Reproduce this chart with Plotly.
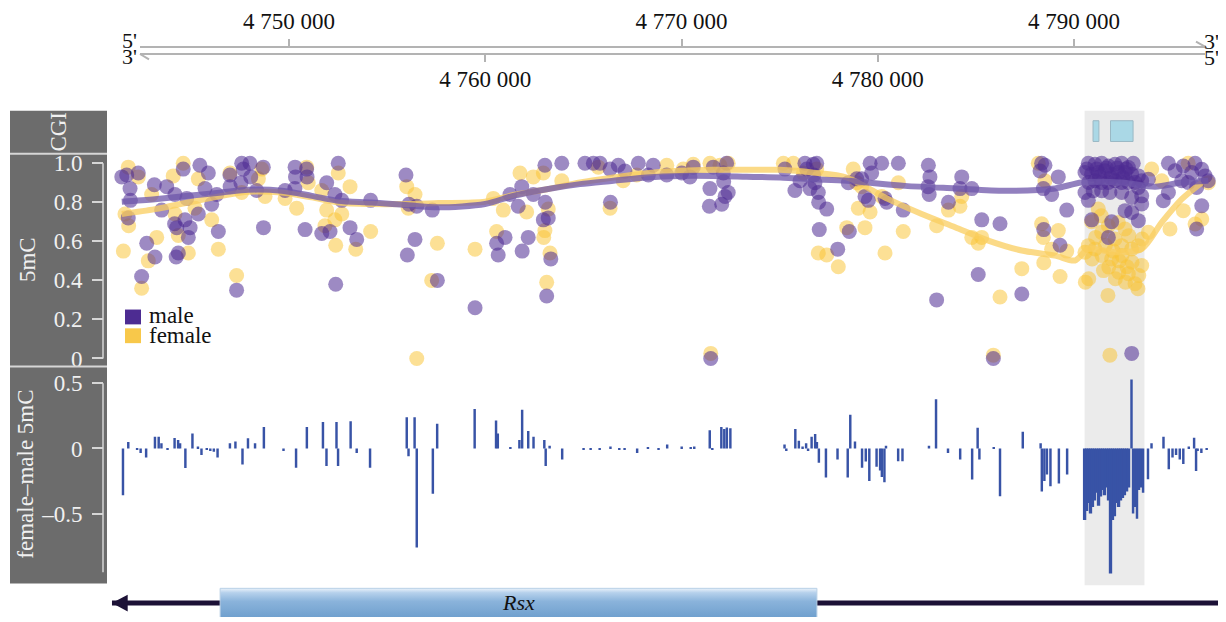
import plotly.graph_objects as go

W, H = 1226, 622
SERIF = "Liberation Serif, Times New Roman, serif"

# ------------------------------------------------------------------ data
ruler_top_ticks = [4750, 4770, 4790]
ruler_top_labels = ["4 750 000", "4 770 000", "4 790 000"]
ruler_bottom_ticks = [4760, 4780]
ruler_bottom_labels = ["4 760 000", "4 780 000"]

male_pos = [
    4741.48, 4741.73, 4742.32, 4741.90, 4741.92, 4741.81, 4742.75, 4743.17, 4742.49, 4743.14,
    4743.77, 4743.51, 4744.19, 4744.17, 4744.28, 4744.79, 4744.70, 4744.96, 4744.87, 4744.36,
    4744.25, 4744.61, 4745.46, 4745.89, 4745.72, 4745.38, 4746.06, 4746.32, 4746.40, 4746.99,
    4747.00, 4747.59, 4747.67, 4748.01, 4748.05, 4747.55, 4748.69, 4748.35, 4747.33, 4748.70,
    4750.31, 4750.90, 4750.33, 4750.92, 4750.30, 4749.80, 4750.82, 4751.67, 4752.09, 4751.92,
    4752.51, 4752.34, 4752.69, 4753.11, 4753.45, 4752.38, 4754.16, 4755.96, 4756.11, 4756.51,
    4757.30, 4756.42, 4756.03, 4757.56, 4759.48,
    4760.58, 4760.66, 4761.01, 4761.26, 4761.68, 4761.86, 4761.88, 4762.19, 4762.45, 4763.04,
    4763.90, 4763.06, 4762.96, 4763.21, 4763.34, 4763.13, 4765.08, 4765.51, 4765.85, 4766.36,
    4766.78, 4767.12, 4766.38, 4767.80, 4768.31, 4768.56, 4769.25, 4770.01, 4770.43, 4770.60,
    4771.45, 4771.42, 4771.62, 4772.13, 4772.15, 4772.38, 4772.22, 4772.05, 4772.30, 4771.49,
    4775.27, 4775.78, 4776.04, 4776.29, 4776.72, 4776.74, 4776.80, 4776.55, 4776.97, 4776.99,
    4777.40, 4777.02, 4777.96, 4778.55, 4778.50, 4778.93, 4776.38, 4776.89,
    4779.61, 4780.20, 4781.05, 4779.69, 4779.18, 4779.35, 4779.52, 4780.37, 4780.46, 4781.30,
    4782.58, 4782.66, 4782.56, 4782.62, 4783.60, 4784.28, 4784.19, 4784.79, 4785.30, 4786.23,
    4785.12, 4783.00, 4787.34, 4785.89, 4788.35, 4788.52, 4788.27, 4789.20, 4788.44, 4788.86,
    4789.63, 4788.46, 4789.29,
    4790.90, 4791.75, 4791.92, 4790.73,
    4790.73, 4791.07, 4791.41, 4791.75, 4792.09, 4792.43, 4792.77, 4793.02,
    4790.56, 4790.90, 4791.24, 4791.58, 4791.92, 4792.26, 4792.60, 4792.94, 4793.28,
    4790.75, 4791.07, 4791.41, 4791.75, 4792.09, 4792.43, 4792.77, 4793.11, 4793.45, 4793.79,
    4790.98, 4791.41, 4791.83, 4792.43, 4793.28, 4793.45, 4793.45, 4792.94, 4793.28, 4792.60,
    4790.56, 4792.94, 4792.94,
    4790.65, 4791.15, 4791.65, 4792.20, 4792.65, 4791.30, 4791.90, 4792.50,
    4794.81, 4795.15, 4795.57, 4796.17, 4796.51, 4796.84, 4795.82, 4795.49, 4794.81, 4794.55,
    4796.25, 4796.51, 4796.25, 4796.00, 4796.68,
]
male_5mc = [
    0.93, 0.94, 0.95, 0.87, 0.81, 0.72, 0.59, 0.52, 0.42, 0.89,
    0.88, 0.76, 0.84, 0.69, 0.67, 0.82, 0.71, 0.67, 0.62, 0.54,
    0.52, 0.97, 0.99, 0.95, 0.87, 0.74, 0.79, 0.84, 0.65, 0.94,
    0.88, 1.00, 0.97, 1.00, 0.93, 0.90, 0.98, 0.86, 0.35, 0.67,
    0.98, 0.97, 0.93, 0.93, 0.87, 0.86, 0.66, 0.64, 0.65, 0.90,
    1.00, 0.84, 0.81, 0.67, 0.61, 0.38, 0.81, 0.94, 0.79, 0.78,
    0.76, 0.61, 0.53, 0.40, 0.26,
    0.59, 0.53, 0.62, 0.84, 0.78, 0.88, 0.55, 0.62, 0.84, 0.99,
    1.00, 0.80, 0.71, 0.72, 0.51, 0.32, 1.00, 1.00, 1.00, 0.97,
    0.99, 0.96, 0.80, 1.00, 0.94, 0.99, 0.94, 0.95, 0.93, 0.98,
    0.87, 0.78, 0.98, 0.95, 0.905, 0.85, 0.83, 0.79, 1.00, 0.00,
    0.97, 0.86, 0.91, 1.00, 0.995, 0.94, 0.90, 0.87, 0.85, 0.80,
    0.765, 0.66, 0.56, 0.65, 0.90, 0.92, 0.97, 1.00,
    1.00, 1.00, 1.00, 0.95, 0.92, 0.83, 0.81, 0.82, 0.80, 0.76,
    0.99, 0.93, 0.88, 0.84, 0.80, 0.93, 0.87, 0.87, 0.71, 0.69,
    0.43, 0.30, 0.33, 0.00, 1.00, 0.99, 0.96, 0.93, 0.87, 0.84,
    0.76, 0.66, 0.58,
    0.71, 0.62, 0.70, 0.81,
    1.00, 0.995, 1.00, 0.986, 0.995, 1.00, 0.978, 1.00,
    0.952, 0.944, 0.952, 0.961, 0.944, 0.952, 0.952, 0.944, 0.935,
    0.901, 0.91, 0.901, 0.901, 0.91, 0.901, 0.901, 0.901, 0.91, 0.918,
    0.859, 0.859, 0.85, 0.85, 0.876, 0.833, 0.791, 0.748, 0.706, 0.757,
    0.85, 0.825, 0.026,
    0.97, 0.97, 0.975, 0.975, 0.97, 0.93, 0.925, 0.925,
    1.00, 0.961, 0.986, 1.00, 0.969, 0.91, 0.901, 0.91, 0.85, 0.808,
    0.876, 0.782, 0.663, 0.952, 0.935,
]

female_pos = [
    4741.56, 4742.49, 4742.83, 4743.26, 4741.81, 4741.83, 4741.64, 4742.32, 4743.00, 4744.10,
    4744.61, 4744.19, 4744.36, 4744.87, 4745.21, 4745.38, 4746.06, 4746.40, 4746.99, 4747.33,
    4747.59, 4748.44, 4748.61, 4748.78, 4749.80, 4750.39, 4750.90, 4750.98, 4751.92, 4751.83,
    4752.34, 4752.69, 4752.51, 4753.11, 4752.38, 4753.40, 4754.16, 4756.00, 4756.42, 4756.08,
    4757.56, 4757.27, 4756.51, 4759.48, 4751.67,
    4760.41, 4760.92, 4760.58, 4761.77, 4762.45, 4762.11, 4762.96, 4763.90, 4763.04, 4762.98,
    4763.30, 4763.13, 4763.21, 4765.76, 4766.36, 4767.03, 4767.72, 4769.25, 4770.09, 4770.60,
    4771.45, 4771.96, 4772.38, 4771.49, 4775.19, 4775.70, 4776.21, 4776.89, 4776.97, 4777.40,
    4777.99, 4778.42, 4778.75, 4779.01, 4778.93,
    4779.18, 4779.61, 4779.35, 4780.20, 4781.05, 4781.30, 4780.37, 4783.00, 4783.60, 4784.19,
    4784.28, 4784.79, 4785.12, 4785.30, 4786.23, 4787.34, 4785.89, 4788.35, 4788.44, 4788.46,
    4789.20, 4788.86, 4789.63, 4789.29, 4788.52, 4788.18,
    4791.24, 4790.90, 4791.41, 4790.73, 4791.07, 4791.75, 4792.26, 4792.60, 4792.09, 4792.43,
    4792.94, 4793.28, 4790.56, 4790.92, 4791.43, 4791.92, 4792.45, 4792.96, 4793.45, 4791.77,
    4792.28, 4792.77, 4793.30, 4790.75, 4790.58, 4792.11, 4792.62, 4793.11, 4793.26, 4791.73,
    4793.79, 4793.47, 4791.39, 4792.79, 4791.83,
    4791.10, 4791.60, 4792.00, 4792.30, 4791.50, 4792.70,
    4793.96, 4794.89, 4795.57, 4796.51, 4796.17, 4795.82, 4796.84, 4794.47,
]
female_5mc = [
    0.55, 0.36, 0.50, 0.62, 0.98, 0.68, 0.74, 0.93, 0.84, 0.935,
    1.00, 0.74, 0.63, 0.54, 0.77, 0.92, 0.71, 0.56, 0.95, 0.425,
    0.85, 0.92, 0.97, 0.83, 0.82, 0.77, 0.98, 0.90, 0.76, 0.68,
    0.71, 0.74, 0.95, 0.88, 0.58, 0.56, 0.65, 0.88, 0.84, 0.77,
    0.59, 0.40, 0.00, 0.56, 0.86,
    0.82, 0.76, 0.65, 0.95, 0.93, 0.75, 0.95, 0.91, 0.655, 0.62,
    0.54, 0.39, 0.765, 0.98, 0.77, 0.91, 0.94, 0.99, 0.97, 0.995,
    1.00, 0.99, 1.00, 0.026, 1.00, 1.00, 0.95, 0.97, 0.54, 0.53,
    0.47, 0.67, 0.97, 0.77, 0.90,
    0.88, 0.75, 0.67, 0.83, 0.90, 0.65, 0.54, 0.68, 0.76, 0.78,
    0.83, 0.62, 0.59, 0.62, 0.315, 0.46, 0.017, 0.69, 0.62, 0.49,
    0.655, 0.56, 0.55, 0.42, 0.91, 1.00,
    0.765, 0.70, 0.646, 0.578, 0.561, 0.68, 0.697, 0.663, 0.612, 0.578,
    0.561, 0.578, 0.544, 0.51, 0.527, 0.51, 0.527, 0.493, 0.476, 0.468,
    0.442, 0.434, 0.425, 0.408, 0.391, 0.408, 0.391, 0.383, 0.357, 0.323,
    0.646, 0.612, 0.731, 0.629, 0.017,
    0.62, 0.58, 0.55, 0.50, 0.45, 0.47,
    0.97, 0.663, 0.757, 0.714, 0.689, 1.00, 0.90, 0.91,
]

male_smooth_pos = [
    4741.48, 4743.17, 4744.87, 4746.57, 4747.93, 4749.63, 4751.16, 4752.51, 4754.21, 4755.91,
    4757.61, 4759.99, 4761.43, 4763.13, 4764.83, 4766.53, 4768.23, 4769.92, 4771.62, 4773.32,
    4775.02, 4776.72, 4778.42, 4781.39, 4783.94, 4786.48, 4789.03, 4790.39, 4792.43, 4794.13,
    4795.49, 4796.84,
]
male_smooth = [
    0.803, 0.816, 0.833, 0.850, 0.864, 0.859, 0.833, 0.808, 0.799, 0.786,
    0.774, 0.791, 0.833, 0.867, 0.893, 0.910, 0.927, 0.935, 0.935, 0.931,
    0.927, 0.918, 0.910, 0.884, 0.871, 0.859, 0.871, 0.901, 0.901, 0.880,
    0.901, 0.910,
]
female_smooth_pos = [
    4741.48, 4743.17, 4744.87, 4746.57, 4747.93, 4749.63, 4751.16, 4752.51, 4754.21, 4755.91,
    4757.61, 4759.99, 4761.43, 4763.13, 4764.83, 4766.53, 4768.23, 4769.92, 4771.62, 4773.32,
    4775.02, 4776.72, 4778.42, 4780.54, 4782.24, 4783.94, 4785.63, 4787.34, 4789.03, 4790.05,
    4790.73, 4792.09, 4793.45, 4794.47, 4795.49, 4796.51,
]
female_smooth = [
    0.740, 0.765, 0.799, 0.833, 0.854, 0.850, 0.825, 0.799, 0.791, 0.791,
    0.796, 0.803, 0.837, 0.867, 0.901, 0.927, 0.949, 0.961, 0.966, 0.966,
    0.966, 0.952, 0.927, 0.816, 0.740, 0.672, 0.604, 0.553, 0.527, 0.502,
    0.561, 0.544, 0.561, 0.697, 0.816, 0.901,
]

diff_pos = [
    4741.54, 4741.81, 4742.26, 4742.44, 4742.72, 4743.17, 4743.36, 4743.50, 4743.81, 4744.17,
    4744.35, 4744.45, 4744.72, 4745.08, 4745.36, 4745.54, 4745.81, 4745.99, 4746.17, 4746.36,
    4746.99, 4747.27, 4747.63, 4747.91, 4748.27, 4748.72, 4749.72, 4750.36, 4750.91, 4751.73,
    4751.91, 4752.42, 4752.50, 4753.14, 4753.45, 4754.13, 4756.00, 4756.09, 4756.40, 4756.51,
    4757.33, 4757.55, 4759.46, 4760.55, 4760.64, 4761.28, 4761.74, 4761.88, 4762.19, 4762.46,
    4763.01, 4763.08, 4763.28, 4763.92, 4765.01, 4765.37, 4765.83, 4766.38, 4766.83, 4767.10,
    4767.74, 4768.29, 4768.83,
    4769.27, 4770.01, 4770.47, 4770.65, 4771.44, 4771.57, 4772.03, 4772.18, 4772.31, 4772.49,
    4775.25, 4775.34, 4775.80, 4775.98, 4776.17, 4776.35, 4776.45, 4776.63, 4776.81, 4776.90,
    4777.00, 4777.36, 4777.95, 4778.47, 4778.60, 4778.84, 4779.20, 4779.39, 4779.57, 4779.94,
    4780.12, 4780.21, 4780.34, 4780.42, 4781.04, 4781.26, 4782.61, 4782.97, 4783.58, 4784.20,
    4784.81, 4785.09, 4785.18, 4785.91, 4786.23, 4787.39, 4788.30, 4788.36, 4788.49, 4788.62,
    4788.80, 4789.23, 4789.65,
    4790.54, 4790.64, 4790.74, 4790.84, 4790.94, 4791.04, 4791.15, 4791.25, 4791.35, 4791.45,
    4791.55, 4791.66, 4791.76, 4791.86, 4791.96, 4792.06, 4792.17, 4792.27, 4792.37, 4792.47,
    4792.57, 4792.68, 4792.78, 4792.93, 4793.01, 4793.11, 4793.21, 4793.31, 4793.41, 4793.52,
    4793.77, 4793.95, 4794.56, 4794.83, 4795.02, 4795.20, 4795.39, 4795.57, 4795.85, 4796.12,
    4796.22, 4796.30, 4796.49, 4796.76,
]
diff_val = [
    -0.36, 0.05, -0.01, -0.035, -0.07, 0.09, 0.09, 0.04, -0.01, 0.08,
    0.065, 0.04, -0.15, 0.115, 0.015, -0.05, -0.01, -0.02, -0.025, -0.07,
    0.04, 0.053, -0.123, 0.078, 0.04, 0.165, -0.02, -0.148, 0.165, 0.203,
    -0.135, 0.203, -0.135, 0.208, -0.035, -0.148, 0.24, -0.06, 0.24, -0.76,
    -0.348, 0.19, 0.303, 0.215, 0.115, 0.01, 0.065, 0.298, 0.133, 0.09,
    0.065, -0.135, 0.02, -0.085, -0.005, -0.005, -0.01, 0.015, -0.01, -0.01,
    -0.035, 0.008, -0.01,
    0.03, 0.015, 0.01, 0.015, 0.14, -0.01, 0.165, 0.15, 0.16, 0.155,
    0.03, -0.02, 0.15, 0.06, 0.015, 0.04, -0.02, 0.09, 0.11, 0.05,
    -0.11, -0.223, -0.085, -0.223, 0.258, 0.053, -0.148, -0.10, -0.25, -0.14,
    -0.17, -0.22, -0.26, 0.02, -0.098, -0.098, 0.02, 0.378, -0.035, -0.085,
    -0.238, 0.158, -0.085, 0.01, -0.368, 0.128, 0.04, -0.33, -0.25, -0.20,
    -0.29, -0.27, -0.20,
    -0.55, -0.48, -0.42, -0.50, -0.45, -0.40, -0.34, -0.44, -0.37, -0.32,
    -0.36, -0.30, -0.40, -0.96, -0.55, -0.52, -0.42, -0.45, -0.40, -0.38,
    -0.36, -0.33, -0.30, 0.53, -0.50, -0.45, -0.54, -0.32, -0.30, -0.34,
    -0.236, 0.04, 0.09, -0.16, -0.07, -0.05, -0.085, -0.12, 0.015, 0.083,
    -0.173, -0.02, -0.035, -0.01,
]

cgi_start = [4790.97, 4791.86]
cgi_end = [4791.27, 4793.01]
dmr_start, dmr_end = 4790.54, 4793.59
gene_name = "Rsx"
gene_start, gene_end = 4746.49, 4776.90
locus_start, locus_end = 4740.98, 4797.44

# ------------------------------------------------------------------ layout helpers
# the page body adds an 8px margin, so the figure is 8px smaller and every
# page position is shifted by that margin
OFF = 8
FW, FH = W - OFF, H - OFF


def fx(px):
    return (px - OFF) / FW


def fy(py):
    return 1 - (py - OFF) / FH


def kb_at(px):
    return 4750 + (px - 289) / 19.625


MALE = "#4d2c92"
FEMALE = "#f8c84a"
BLUE = "#3853a6"
DARK = "#1c1136"
PANEL = "#6c6c6c"
PANEL_TXT = "#f0f0f0"

# bars inside the densely sampled highlighted region are drawn a little wider so they merge
bar_widths = [0.17 if dmr_start <= p <= dmr_end and p < 4792.85 else 0.125 for p in diff_pos]

fig = go.Figure()

fig.add_trace(go.Scatter(x=female_pos, y=female_5mc, mode="markers",
                         marker=dict(size=15, color="rgba(249,196,52,0.52)", line=dict(width=0)),
                         xaxis="x", yaxis="y", hoverinfo="skip"))
fig.add_trace(go.Scatter(x=male_pos, y=male_5mc, mode="markers",
                         marker=dict(size=15, color="rgba(76,42,146,0.55)", line=dict(width=0)),
                         xaxis="x", yaxis="y", hoverinfo="skip"))
fig.add_trace(go.Scatter(x=female_smooth_pos, y=female_smooth, mode="lines",
                         line=dict(color="rgba(250,206,95,0.75)", width=6, shape="spline", smoothing=0.8),
                         xaxis="x", yaxis="y", hoverinfo="skip"))
fig.add_trace(go.Scatter(x=male_smooth_pos, y=male_smooth, mode="lines",
                         line=dict(color="rgba(110,86,170,0.75)", width=6, shape="spline", smoothing=0.8),
                         xaxis="x", yaxis="y", hoverinfo="skip"))
fig.add_trace(go.Bar(x=diff_pos, y=diff_val, width=bar_widths,
                     marker=dict(color=BLUE, line=dict(width=0)),
                     xaxis="x", yaxis="y2", hoverinfo="skip"))

# gene track
fig.add_trace(go.Scatter(x=[locus_start, locus_end], y=[0.44, 0.44], mode="lines",
                         line=dict(color=DARK, width=5), xaxis="x", yaxis="y3", hoverinfo="skip"))
fig.add_trace(go.Scatter(x=[locus_start, locus_start + 0.8, locus_start + 0.8, locus_start],
                         y=[0.44, 0.70, 0.17, 0.44], mode="lines", fill="toself",
                         fillcolor=DARK, line=dict(width=0, color=DARK),
                         xaxis="x", yaxis="y3", hoverinfo="skip"))
fig.add_trace(go.Scatter(x=[gene_start, gene_end, gene_end, gene_start, gene_start],
                         y=[-0.3, -0.3, 0.906, 0.906, -0.3], mode="lines", fill="toself",
                         fillgradient=dict(type="vertical", start=0, stop=0.906,
                                           colorscale=[[0, "#70a0ce"], [0.55, "#8ab3db"],
                                                       [0.85, "#b6d1ec"], [1, "#eaf2fa"]]),
                         line=dict(width=1, color="#b9d0e6"),
                         xaxis="x", yaxis="y3", hoverinfo="skip"))

# invisible anchors for the ruler axes
fig.add_trace(go.Scatter(x=[4770], y=[-9], mode="markers", marker=dict(opacity=0),
                         xaxis="x2", yaxis="y", hoverinfo="skip"))
fig.add_trace(go.Scatter(x=[4770], y=[-9], mode="markers", marker=dict(opacity=0),
                         xaxis="x3", yaxis="y", hoverinfo="skip"))

ruler_axis = dict(anchor="free", domain=[fx(140), fx(1205)], range=[kb_at(140), kb_at(1205)],
                  showline=True, linecolor="#b3b3b3", linewidth=2, ticks="outside", ticklen=7,
                  tickwidth=1.5, tickcolor="#b3b3b3", showgrid=False, zeroline=False,
                  tickfont=dict(family=SERIF, size=23, color="#111"))

shapes = [
    dict(type="rect", xref="paper", yref="paper", x0=fx(10), x1=fx(107), y0=fy(588), y1=fy(110),
         fillcolor=PANEL, line=dict(width=0), layer="below"),
    dict(type="line", xref="paper", yref="paper", x0=fx(10), x1=fx(107), y0=fy(153.5), y1=fy(153.5),
         line=dict(color="#d6d6d6", width=2)),
    dict(type="line", xref="paper", yref="paper", x0=fx(10), x1=fx(107), y0=fy(368.5), y1=fy(368.5),
         line=dict(color="#d6d6d6", width=2)),
    dict(type="line", xref="paper", yref="y", x0=fx(103), x1=fx(103), y0=0, y1=1,
         line=dict(color="#d6d6d6", width=1.5)),
    dict(type="line", xref="paper", yref="y2", x0=fx(103), x1=fx(103), y0=-0.95, y1=0.5,
         line=dict(color="#d6d6d6", width=1.5)),
    dict(type="rect", xref="x", yref="paper", x0=dmr_start, x1=dmr_end, y0=fy(590), y1=fy(110),
         fillcolor="#ebebeb", line=dict(width=0), layer="below"),
    dict(type="line", xref="paper", yref="paper", x0=fx(1196), x1=fx(1205), y0=fy(40), y1=fy(45),
         line=dict(color="#b3b3b3", width=2)),
    dict(type="line", xref="paper", yref="paper", x0=fx(140), x1=fx(149), y0=fy(52.5), y1=fy(58),
         line=dict(color="#b3b3b3", width=2)),
]
for s, e in zip(cgi_start, cgi_end):
    shapes.append(dict(type="rect", xref="x", yref="paper", x0=s, x1=e, y0=fy(141), y1=fy(120),
                       fillcolor="#aad8e6", line=dict(color="#9ab8c4", width=1)))

shapes.append(dict(type="rect", xref="paper", yref="paper", x0=fx(125), x1=fx(141), y0=fy(326), y1=fy(311),
                   fillcolor=MALE, line=dict(width=0)))
shapes.append(dict(type="rect", xref="paper", yref="paper", x0=fx(125), x1=fx(141), y0=fy(345), y1=fy(330),
                   fillcolor=FEMALE, line=dict(width=0)))


def note(text, px, py, size=23, color="#111", angle=0, xanchor="center"):
    return dict(text=text, x=fx(px), y=fy(py), xref="paper", yref="paper", textangle=angle,
                xanchor=xanchor, yanchor="middle", showarrow=False,
                font=dict(family=SERIF, size=size, color=color))


annotations = [
    note("male", 147, 317, xanchor="left"),
    note("female", 147, 337, xanchor="left"),
    note("CGI", 59, 131, color=PANEL_TXT, angle=-90),
    note("5mC", 27, 261, color=PANEL_TXT, angle=-90),
    note("female–male 5mC", 26, 478, color=PANEL_TXT, angle=-90),
    note("5'", 129, 39, size=22),
    note("3'", 129, 55, size=22),
    note("3'", 1211, 40, size=22),
    note("5'", 1211, 56, size=22),
    dict(text="<i>" + gene_name + "</i>", x=(gene_start + gene_end) / 2, y=0.45, xref="x", yref="y3",
         xanchor="center", yanchor="middle", showarrow=False,
         font=dict(family=SERIF, size=22, color="#111")),
]

ytick_style = dict(ticks="outside", ticklen=11, tickwidth=1.5, tickcolor="#d6d6d6",
                   showline=False, showgrid=False, zeroline=False, anchor="free", position=fx(103),
                   tickfont=dict(family=SERIF, size=23, color=PANEL_TXT), ticklabelstandoff=5)

fig.update_layout(
    width=FW, height=FH, margin=dict(l=0, r=0, t=0, b=0),
    paper_bgcolor="white", plot_bgcolor="rgba(0,0,0,0)", showlegend=False,
    xaxis=dict(domain=[fx(107), fx(1222)], range=[kb_at(107), kb_at(1222)], visible=False, anchor="y"),
    xaxis2=dict(ruler_axis, position=fy(45), side="top",
                tickvals=ruler_top_ticks, ticktext=ruler_top_labels, ticklabelstandoff=0),
    xaxis3=dict(ruler_axis, position=fy(52.5), side="bottom",
                tickvals=ruler_bottom_ticks, ticktext=ruler_bottom_labels, ticklabelstandoff=-3),
    yaxis=dict(ytick_style, domain=[fy(369), fy(153)],
               range=[-(369 - 360.5) / 197.5, (360.5 - 153) / 197.5],
               tickvals=[0, 0.2, 0.4, 0.6, 0.8, 1.0], ticktext=["0", "0.2", "0.4", "0.6", "0.8", "1.0"]),
    yaxis2=dict(ytick_style, domain=[fy(589), fy(369)],
                range=[-(589 - 451.5) / 131.7, (451.5 - 369) / 131.7],
                tickvals=[-0.5, 0, 0.5], ticktext=["–0.5", "0", "0.5"]),
    yaxis3=dict(domain=[0, fy(590)], range=[0, 1], visible=False, anchor="x"),
    shapes=shapes,
    annotations=annotations,
)

fig.write_html("out.html")
